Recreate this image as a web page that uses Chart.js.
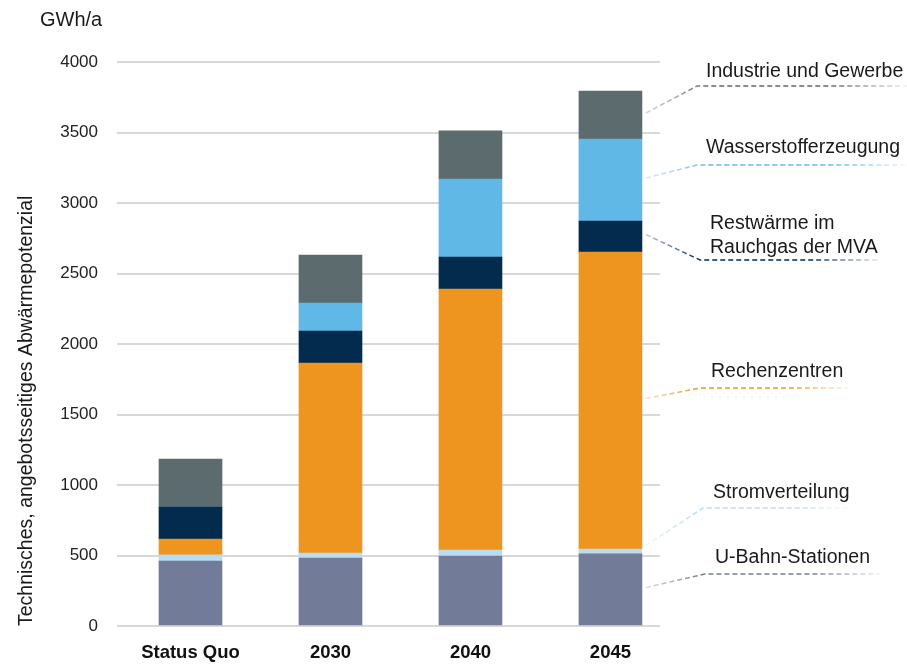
<!DOCTYPE html>
<html>
<head>
<meta charset="utf-8">
<script src="https://cdn.jsdelivr.net/npm/chart.js@4"></script>
<style>
  html, body { margin: 0; padding: 0; background: #ffffff; }
  #wrap { width: 907px; height: 664px; }
</style>
</head>
<body>
<div id="wrap"><canvas id="c" width="907" height="664"></canvas></div>
<script>
// ---- data ----
const categories = ['Status Quo', '2030', '2040', '2045'];
const seriesNames = ['U-Bahn-Stationen', 'Stromverteilung', 'Rechenzentren', 'Restwärme im Rauchgas der MVA', 'Wasserstofferzeugung', 'Industrie und Gewerbe'];
const uBahn      = [461, 482, 496, 511];
const strom      = [43, 36, 43, 35];
const rechen     = [113, 1347, 1851, 2106];
const restwaerme = [227, 227, 227, 220];
const wasserstoff= [0, 199, 553, 582];
const industrie  = [340, 340, 341, 340];
const yTicks = [0, 500, 1000, 1500, 2000, 2500, 3000, 3500, 4000];
const unitLabel = 'GWh/a';
const yTitle = 'Technisches, angebotsseitiges Abwärmepotenzial';

// ---- styles ----
const colors = ['#727c99', '#b9dcf2', '#ee9520', '#022b4d', '#5fb8e5', '#5b6b6e'];
const seriesValues = [uBahn, strom, rechen, restwaerme, wasserstoff, industrie];

// label layout for the right-hand annotations (pixel layout, not data)
const labelLayout = [
  { lines: ['U-Bahn-Stationen'], tx: 715, ty: 558, kx: 705, ky: 574, ex: 880 },
  { lines: ['Stromverteilung'], tx: 713, ty: 493, kx: 703, ky: 508, ex: 852 },
  { lines: ['Rechenzentren'], tx: 711, ty: 372, kx: 700, ky: 388, ex: 848 },
  { lines: ['Restwärme im', 'Rauchgas der MVA'], tx: 710, ty: 224, kx: 700, ky: 260, ex: 880 },
  { lines: ['Wasserstofferzeugung'], tx: 706, ty: 148, kx: 697, ky: 165, ex: 907 },
  { lines: ['Industrie und Gewerbe'], tx: 706, ty: 72, kx: 697, ky: 86, ex: 907 }
];

function rgba(hex, a) {
  const n = parseInt(hex.slice(1), 16);
  return `rgba(${(n >> 16) & 255},${(n >> 8) & 255},${n & 255},${a})`;
}

const FONT = '"Liberation Sans", Arial, sans-serif';

const datasets = seriesNames.map((name, i) => ({
  label: name,
  data: seriesValues[i].map((v, j) => ({ x: j, y: v })),
  backgroundColor: colors[i],
  borderWidth: 0,
  barThickness: 63,
  grouped: false
}));

const annotatePlugin = {
  id: 'annotate',
  afterDatasetsDraw(chart) {
    const ctx = chart.ctx;
    const last = categories.length - 1;
    ctx.save();
    // unit label
    ctx.font = '20px ' + FONT;
    ctx.fillStyle = '#1a1a1a';
    ctx.textBaseline = 'middle';
    ctx.textAlign = 'left';
    ctx.fillText(unitLabel, 40, 20);

    seriesNames.forEach((name, i) => {
      const meta = chart.getDatasetMeta(i);
      const bar = meta.data[last];
      if (!bar) return;
      const props = bar.getProps(['x', 'y', 'base', 'width'], true);
      const sx = props.x + props.width / 2 + 4;
      const sy = (props.y + props.base) / 2 - (i === 1 ? 6 : 2);
      const L = labelLayout[i];
      const g = ctx.createLinearGradient(sx, 0, L.ex, 0);
      g.addColorStop(0, rgba(colors[i], 0.25));
      g.addColorStop(0.25, rgba(colors[i], 1));
      g.addColorStop(0.7, rgba(colors[i], 1));
      g.addColorStop(1, rgba(colors[i], 0.1));
      ctx.strokeStyle = g;
      ctx.lineWidth = 1.5;
      ctx.setLineDash([5, 3]);
      ctx.beginPath();
      ctx.moveTo(sx, sy);
      ctx.lineTo(L.kx, L.ky);
      ctx.lineTo(L.ex, L.ky);
      ctx.stroke();
      ctx.setLineDash([]);
      ctx.fillStyle = '#1a1a1a';
      ctx.font = '19.5px ' + FONT;
      ctx.textBaseline = 'middle';
      L.lines.forEach((t, k) => ctx.fillText(t, L.tx, L.ty + k * 24));
    });
    ctx.restore();
  }
};

new Chart(document.getElementById('c'), {
  type: 'bar',
  data: { datasets },
  options: {
    responsive: false,
    animation: false,
    layout: { padding: { top: 62, right: 247, bottom: 0, left: 0 } },
    plugins: { legend: { display: false }, tooltip: { enabled: false } },
    scales: {
      x: {
        type: 'linear',
        offset: false,
        min: -0.525,
        max: 3.354,
        grid: { display: false, offset: false },
        border: { display: false },
        afterBuildTicks(scale) { scale.ticks = categories.map((_, i) => ({ value: i })); },
        afterFit(scale) { scale.height = 38; },
        ticks: {
          autoSkip: false,
          maxRotation: 0,
          padding: 8,
          color: '#111111',
          font: { family: FONT, size: 18.5, weight: 'bold' },
          callback: (v) => categories[v]
        }
      },
      y: {
        stacked: true,
        min: 0,
        max: 4000,
        border: { display: false },
        grid: { color: '#d8d8d8', lineWidth: 2, drawTicks: false },
        afterBuildTicks(scale) { scale.ticks = yTicks.map(v => ({ value: v })); },
        afterFit(scale) { scale.width = 117; },
        title: {
          display: true,
          text: yTitle,
          align: 'start',
          color: '#1a1a1a',
          font: { family: FONT, size: 19.5 },
          padding: { top: 15, bottom: 0 }
        },
        ticks: {
          padding: 19,
          color: '#222222',
          font: { family: FONT, size: 17 },
          callback: (v) => String(v)
        }
      }
    }
  },
  plugins: [annotatePlugin]
});
</script>
</body>
</html>
